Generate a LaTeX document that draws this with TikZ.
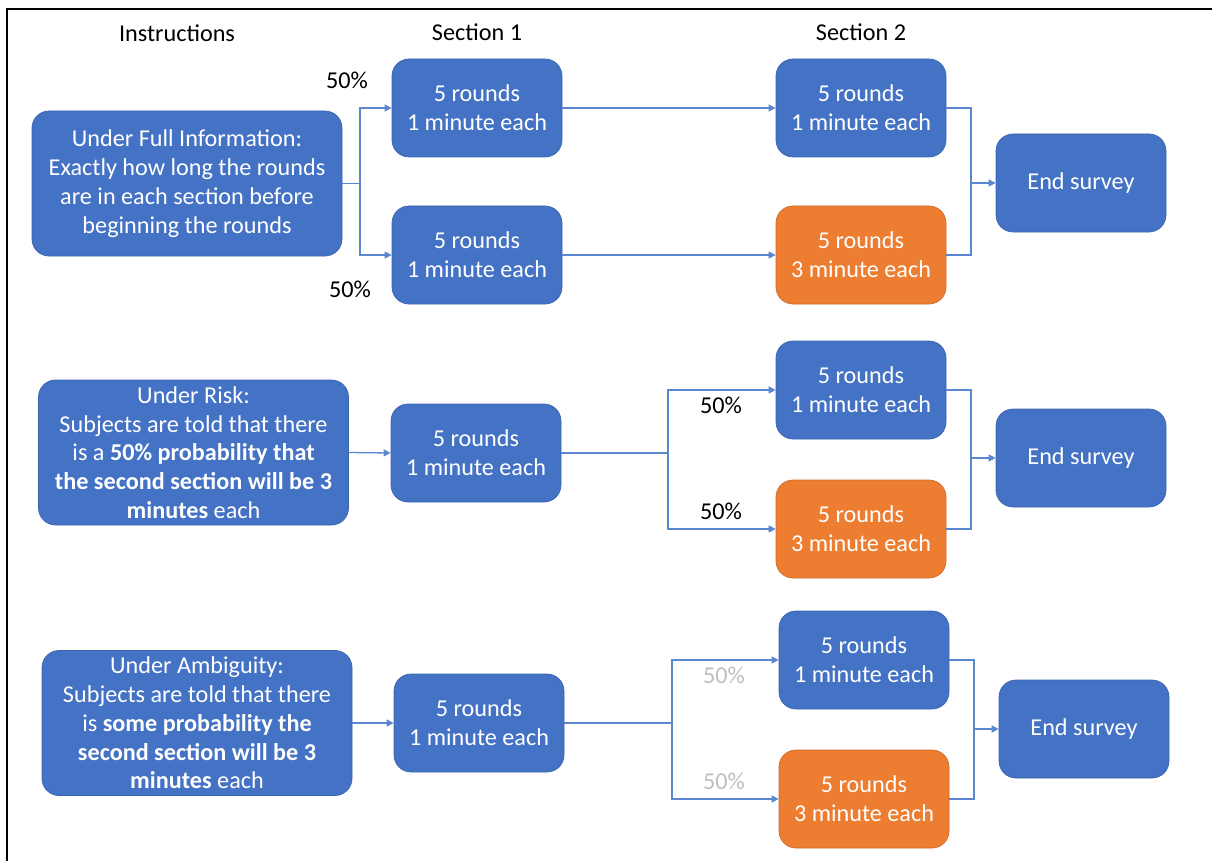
\documentclass[tikz,border=0pt]{standalone}
\usepackage{fontspec}
\setmainfont{Carlito}
\usetikzlibrary{arrows.meta}
\definecolor{cblue}{HTML}{4472C4}
\definecolor{cbluedk}{HTML}{3A64B0}
\definecolor{corange}{HTML}{ED7D31}
\definecolor{corangedk}{HTML}{D0692A}
\definecolor{cline}{HTML}{5B86D0}
\definecolor{cgray}{HTML}{BFBFBF}
\newcommand{\dfont}{\fontsize{24.2}{28.8}\selectfont}
\begin{document}
\begin{tikzpicture}[x=1pt,y=-1pt,
  box/.style={rectangle, rounded corners=17pt, fill=cblue, draw=cbluedk, line width=0.7pt,
    text=white, align=center, font=\dfont, inner sep=0pt},
  smallbox/.style={box, minimum width=170pt, minimum height=98pt},
  obox/.style={smallbox, fill=corange, draw=corangedk},
  bigbox/.style={box, minimum width=310pt, minimum height=145pt},
  lbl/.style={font=\dfont, text=black, inner sep=0pt},
  glbl/.style={lbl, text=cgray},
  conn/.style={draw=cline, line width=1.3pt},
  arr/.style={conn, -{Triangle[length=7pt,width=7pt]}}
]
\useasboundingbox (0,0) rectangle (1212,861);
\fill[white] (0,0) rectangle (1212,861);
\draw[line width=2.6pt, black] (7,861) -- (7,9) -- (1212,9);

% headers
\node[lbl] (hI) at (177,33) {Instructions};
\node[lbl] (hS1) at (477,32) {Section 1};
\node[lbl] (hS2) at (861,32) {Section 2};

% Row 1
\node[bigbox] (fi) at (187,183.5) {Under Full Information:\\Exactly how long the rounds\\are in each section before\\beginning the rounds};
\node[smallbox] (r1a) at (477,108) {5 rounds\\1 minute each};
\node[smallbox] (r1b) at (477,255) {5 rounds\\1 minute each};
\node[smallbox] (r1c) at (861,108) {5 rounds\\1 minute each};
\node[obox] (r1d) at (861,255) {5 rounds\\3 minute each};
\node[smallbox] (e1) at (1081,183) {End survey};
\node[lbl] (p1a) at (347,80) {50\%};
\node[lbl] (p1b) at (350,289) {50\%};
\coordinate (j1) at (360,183.5);
\coordinate (k1) at (971,183);
\draw[conn] (fi.east) -- (j1);
\draw[arr] (j1) |- (r1a.west);
\draw[arr] (j1) |- (r1b.west);
\draw[arr] (r1a.east) -- (r1c.west);
\draw[arr] (r1b.east) -- (r1d.west);
\draw[conn] (r1c.east) -| (k1);
\draw[conn] (r1d.east) -| (k1);
\draw[arr] (k1) -- (e1.west);

% Row 2
\node[bigbox] (ri) at (193.5,452.5) {Under Risk:\\Subjects are told that there\\is a \textbf{50\% probability that}\\\textbf{the second section will be 3}\\\textbf{minutes} each};
\node[smallbox] (r2a) at (476,453) {5 rounds\\1 minute each};
\node[smallbox] (r2c) at (861,390) {5 rounds\\1 minute each};
\node[obox] (r2d) at (861,529) {5 rounds\\3 minute each};
\node[smallbox] (e2) at (1081,458) {End survey};
\node[lbl] (p2a) at (721,405) {50\%};
\node[lbl] (p2b) at (721,511) {50\%};
\coordinate (j2) at (668,453);
\coordinate (k2) at (971,458);
\draw[arr] (ri.east) -- (r2a.west);
\draw[conn] (r2a.east) -- (j2);
\draw[arr] (j2) |- (r2c.west);
\draw[arr] (j2) |- (r2d.west);
\draw[conn] (r2c.east) -| (k2);
\draw[conn] (r2d.east) -| (k2);
\draw[arr] (k2) -- (e2.west);

% Row 3
\node[bigbox] (am) at (197,723) {Under Ambiguity:\\Subjects are told that there\\is \textbf{some probability the}\\\textbf{second section will be 3}\\\textbf{minutes} each};
\node[smallbox] (r3a) at (479,723) {5 rounds\\1 minute each};
\node[smallbox] (r3c) at (864,660) {5 rounds\\1 minute each};
\node[obox] (r3d) at (864,799) {5 rounds\\3 minute each};
\node[smallbox] (e3) at (1084,729) {End survey};
\node[glbl] (p3a) at (724,675) {50\%};
\node[glbl] (p3b) at (724,781) {50\%};
\coordinate (j3) at (672,723);
\coordinate (k3) at (974,729);
\draw[arr] (am.east) -- (r3a.west);
\draw[conn] (r3a.east) -- (j3);
\draw[arr] (j3) |- (r3c.west);
\draw[arr] (j3) |- (r3d.west);
\draw[conn] (r3c.east) -| (k3);
\draw[conn] (r3d.east) -| (k3);
\draw[arr] (k3) -- (e3.west);
\end{tikzpicture}
\end{document}
